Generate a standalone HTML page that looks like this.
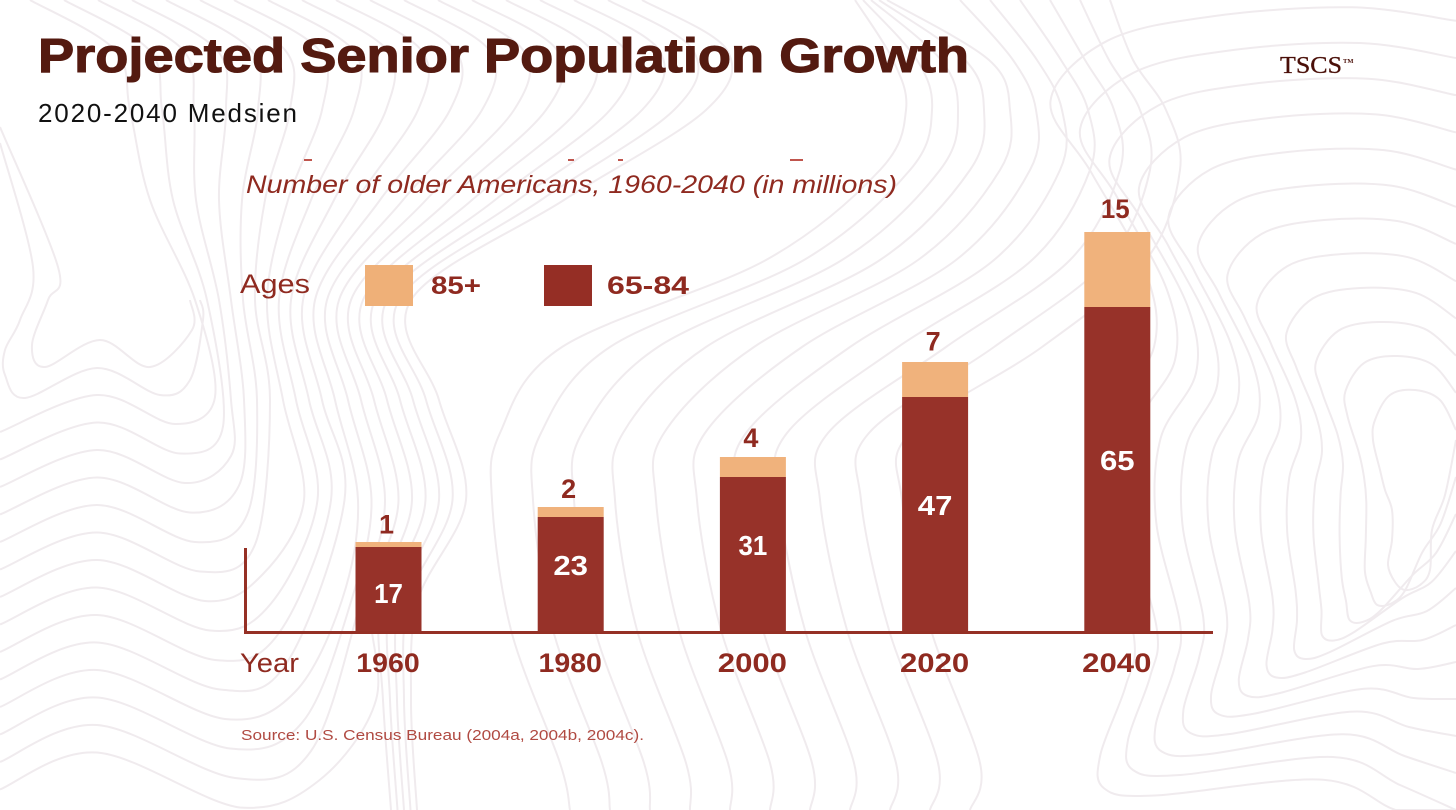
<!DOCTYPE html>
<html lang="en">
<head>
<meta charset="utf-8">
<title>Projected Senior Population Growth</title>
<style>
  html, body { margin: 0; padding: 0; background: #fff; }
  body { width: 1456px; height: 810px; overflow: hidden; }
  svg { display: block; overflow: hidden; font-family: "Liberation Sans", sans-serif; }
</style>
</head>
<body>
<svg id="canvas" width="1456" height="810" viewBox="0 0 1456 810" xmlns="http://www.w3.org/2000/svg">
  <rect width="1456" height="810" fill="#ffffff"/>
  <g id="contours" fill="none" stroke="#f0ebee" stroke-width="2"></g>

  <text x="38" y="72" font-size="48" font-weight="700" fill="#541a10" stroke="#541a10" stroke-width="1.1" textLength="931" lengthAdjust="spacingAndGlyphs">Projected Senior Population Growth</text>
  <text x="38" y="122" font-size="26" fill="#111111" textLength="259" lengthAdjust="spacing">2020-2040 Medsien</text>
  <text x="1280" y="73" font-family="'Liberation Serif', serif" font-size="24" fill="#4a0f08" stroke="#4a0f08" stroke-width="0.3" textLength="62" lengthAdjust="spacingAndGlyphs">TSCS</text>
  <text x="1343" y="63" font-family="'Liberation Serif', serif" font-size="6.5" font-weight="700" fill="#4a0f08">TM</text>

  <g fill="#c0554d">
    <rect x="304" y="159" width="8" height="2"/>
    <rect x="568" y="159" width="6" height="2"/>
    <rect x="618" y="159" width="5" height="2"/>
    <rect x="790" y="159" width="13" height="2"/>
  </g>
  <text x="246" y="193" font-size="25" font-style="italic" fill="#8f2a20" textLength="651" lengthAdjust="spacingAndGlyphs">Number of older Americans, 1960-2040 (in millions)</text>

  <g>
    <text x="240" y="293" font-size="27" fill="#8f2a20" textLength="70" lengthAdjust="spacingAndGlyphs">Ages</text>
    <rect x="365" y="265" width="48" height="41" fill="#efb078"/>
    <text x="431" y="294" font-size="25" font-weight="700" fill="#8f2a20" textLength="50" lengthAdjust="spacingAndGlyphs">85+</text>
    <rect x="544" y="265" width="48" height="41" fill="#952e25"/>
    <text x="607" y="294" font-size="25" font-weight="700" fill="#8f2a20" textLength="82" lengthAdjust="spacingAndGlyphs">65-84</text>
  </g>

  <g id="bars"></g>

  <rect x="244" y="548" width="3" height="85" fill="#953025"/>
  <rect x="244" y="631" width="969" height="3" fill="#953025"/>
  <text x="240" y="672" font-size="27" fill="#8f2a20" textLength="59" lengthAdjust="spacingAndGlyphs">Year</text>
  <g id="ticks"></g>

  <text x="241" y="740" font-size="15" fill="#b04a42" textLength="403" lengthAdjust="spacingAndGlyphs">Source: U.S. Census Bureau (2004a, 2004b, 2004c).</text>
</svg>

<script>
const years = ["1960", "1980", "2000", "2020", "2040"];
const agesOlder65to84 = [17, 23, 31, 47, 65];
const agesOldest85Plus = [1, 2, 4, 7, 15];

const NS = "http://www.w3.org/2000/svg";

function xPos(i) { return 388.5 + 182.2 * i; }
function yPos(v) { return 632 - 5 * v; }

function labelWidth(label) {
  return String(label).split("").reduce(function (sum, c) {
    return sum + (c === "1" ? 11.5 : 17.3);
  }, 0);
}

function makeText(parent, label, x, y, size, fill) {
  const t = document.createElementNS(NS, "text");
  t.setAttribute("x", x);
  t.setAttribute("y", y);
  t.setAttribute("font-size", size);
  t.setAttribute("font-weight", "700");
  t.setAttribute("fill", fill);
  t.setAttribute("text-anchor", "middle");
  if (String(label).length > 1) {
    t.setAttribute("textLength", labelWidth(label).toFixed(1));
    t.setAttribute("lengthAdjust", "spacingAndGlyphs");
  }
  t.textContent = label;
  parent.appendChild(t);
  return t;
}

const barsGroup = document.getElementById("bars");
const ticksGroup = document.getElementById("ticks");

years.forEach(function (year, i) {
  const cx = xPos(i);
  const lowTop = yPos(agesOlder65to84[i]);
  const fullTop = yPos(agesOlder65to84[i] + agesOldest85Plus[i]);
  const lowHeight = yPos(0) - lowTop;
  const fullHeight = yPos(0) - fullTop;

  const older = document.createElementNS(NS, "rect");
  older.setAttribute("x", cx - 33);
  older.setAttribute("y", lowTop);
  older.setAttribute("width", 66);
  older.setAttribute("height", lowHeight);
  older.setAttribute("fill", "#952e25");
  older.setAttribute("fill-opacity", "0.98");
  
  
  barsGroup.appendChild(older);

  const oldest = document.createElementNS(NS, "rect");
  oldest.setAttribute("x", cx - 33);
  oldest.setAttribute("y", fullTop);
  oldest.setAttribute("width", 66);
  oldest.setAttribute("height", lowTop - fullTop);
  oldest.setAttribute("fill", "#efb078");
  oldest.setAttribute("fill-opacity", "0.97");
  
  
  barsGroup.appendChild(oldest);

  const innerY = lowHeight < 100 ? yPos(0) - 29 : lowTop + lowHeight / 2 + 0.5;
  const inner = makeText(barsGroup, agesOlder65to84[i], cx, innerY, 28, "#ffffff");
  
  

  const outerY = fullTop - (7 + fullHeight * 0.0175);
  const outer = makeText(barsGroup, agesOldest85Plus[i], cx - 2, outerY, 27, "#8f2a20");
  
  

  const tick = makeText(ticksGroup, year, cx - 0.5, 672, 27, "#8f2a20");
  
  
});

/* Decorative contour lines behind the chart (not data). */
function clampX(v) { return Math.max(0, Math.min(1456, v)).toFixed(1); }
function clampY(v) { return Math.max(0, Math.min(810, v)).toFixed(1); }
function smooth(pts) {
  let d = "M" + clampX(pts[0][0]) + "," + clampY(pts[0][1]);
  for (let i = 0; i < pts.length - 1; i++) {
    const p0 = pts[i - 1] || pts[i], p1 = pts[i], p2 = pts[i + 1], p3 = pts[i + 2] || p2;
    d += " C" + clampX(p1[0] + (p2[0] - p0[0]) / 6) + "," + clampY(p1[1] + (p2[1] - p0[1]) / 6) +
         " " + clampX(p2[0] - (p3[0] - p1[0]) / 6) + "," + clampY(p2[1] - (p3[1] - p1[1]) / 6) +
         " " + clampX(p2[0]) + "," + clampY(p2[1]);
  }
  return d;
}
const contourGroup = document.getElementById("contours");
function addContour(pts) {
  const p = document.createElementNS(NS, "path");
  p.setAttribute("d", smooth(pts));
  
  
  contourGroup.appendChild(p);
}

/* Left family: waves from the left edge, turning upward, folding right near the top. */
for (let k = 0; k < 19; k++) {
  const y0 = 432 + 27.5 * k;
  let pts;
  if (y0 < 800) {
    pts = [[0, y0], [97, y0 - 37], [175 + 5 * k, y0 - 8 + k * 2], [215 + 8 * k, y0 - 35 + k * 2]];
  } else {
    pts = [[300 + 6.5 * k, 810]];
  }
  const guide = [
    [700, 285 + 7 * k], [600, 247 + 9.5 * k], [500, 223 + 13.5 * k], [400, 205 + 13 * k],
    [300, 195 + 12 * k], [200, 150 + 23 * k], [110, 130 + 32 * k], [50, 115 + 34 * k], [0, 30 + 34 * k]
  ];
  guide.forEach(function (g) {
    if (g[0] < y0 - 80) { pts.push([g[1], g[0]]); }
  });
  addContour(pts);
}

/* Left loops. */
addContour([[0, 127], [58, 267], [48, 300], [32, 345], [45, 367], [100, 340], [150, 367], [192, 330], [190, 300]]);
addContour([[0, 143], [33, 267], [20, 320], [5, 350], [5, 375], [25, 398], [97, 368], [160, 395], [190, 380], [203, 320], [200, 300]]);

/* Diagonal middle family: tight at the top right, sweeping down-left, then vertical. */
for (let k = 0; k < 11; k++) {
  addContour([
    [k < 5 ? 855 + 8 * k : 930 + 30 * (k - 4), 0],
    [893 + 24 * k, 60], [906 + 26 * k, 110], [880 + 30 * k, 170], [766 + 38 * k, 260],
    [562 + 48 * k, 347], [500 + 41 * k, 433], [492 + 41 * k, 500], [511 + 42 * k, 630],
    [560 + 42 * k, 763], [570 + 40 * k, 810]
  ]);
}

/* Right family: nested loops, interpolated between an outer outline and the innermost blob. */
const outerLoop = [[1456, 58], [1360, 43], [1233, 50], [1133, 73], [1080, 130], [1117, 197], [1167, 290], [1175, 360], [1135, 430], [1130, 520], [1157, 630], [1150, 677], [1128, 740], [1133, 770], [1180, 775], [1333, 757], [1400, 785], [1456, 810]];
const innerLoop = [[1456, 430], [1440, 400], [1415, 390], [1390, 395], [1375, 420], [1373, 440], [1380, 470], [1385, 490], [1392, 510], [1392, 540], [1388, 565], [1395, 582], [1405, 590], [1420, 585], [1430, 570], [1432, 530], [1445, 495], [1456, 440]];
for (let s = -1; s <= 10; s++) {
  const t = s / 10;
  addContour(outerLoop.map(function (p, i) {
    return [p[0] + (innerLoop[i][0] - p[0]) * t, p[1] + (innerLoop[i][1] - p[1]) * t];
  }));
}
</script>
</body>
</html>
